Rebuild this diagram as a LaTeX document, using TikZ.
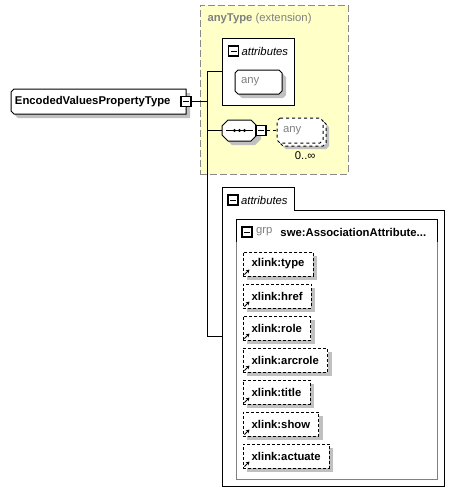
\documentclass[tikz,border=0pt]{standalone}
\usepackage{fontspec}
\setmainfont{Liberation Sans}
\usetikzlibrary{arrows.meta, positioning, calc, shadows}
\definecolor{extfill}{HTML}{FFFFC8}
\definecolor{extline}{HTML}{8A8A8A}
\definecolor{shade}{HTML}{C0C0C0}
\definecolor{dimtext}{HTML}{808080}
\definecolor{grpline}{HTML}{808080}

% box with cut corners (rectangle anchors, exact size)
\makeatletter
\pgfkeys{/pgf/cut west/.initial=3pt, /pgf/cut east/.initial=3pt}
\pgfdeclareshape{cutbox}{
  \inheritsavedanchors[from=rectangle]
  \inheritanchorborder[from=rectangle]
  \inheritanchor[from=rectangle]{center}
  \inheritanchor[from=rectangle]{north}
  \inheritanchor[from=rectangle]{south}
  \inheritanchor[from=rectangle]{east}
  \inheritanchor[from=rectangle]{west}
  \inheritanchor[from=rectangle]{north east}
  \inheritanchor[from=rectangle]{north west}
  \inheritanchor[from=rectangle]{south east}
  \inheritanchor[from=rectangle]{south west}
  \inheritanchor[from=rectangle]{mid}
  \inheritanchor[from=rectangle]{base}
  \backgroundpath{
    \southwest \edef\cbL{\the\pgf@x}\edef\cbB{\the\pgf@y}
    \northeast \edef\cbR{\the\pgf@x}\edef\cbT{\the\pgf@y}
    \pgfmathsetlengthmacro\cbOX{\pgfkeysvalueof{/pgf/outer xsep}}
    \pgfmathsetlengthmacro\cbOY{\pgfkeysvalueof{/pgf/outer ysep}}
    \pgfmathsetlengthmacro\cbL{\cbL+\cbOX}
    \pgfmathsetlengthmacro\cbR{\cbR-\cbOX}
    \pgfmathsetlengthmacro\cbB{\cbB+\cbOY}
    \pgfmathsetlengthmacro\cbT{\cbT-\cbOY}
    \pgfmathsetlengthmacro\cbW{\pgfkeysvalueof{/pgf/cut west}}
    \pgfmathsetlengthmacro\cbE{\pgfkeysvalueof{/pgf/cut east}}
    \pgfpathmoveto{\pgfpoint{\cbL+\cbW}{\cbT}}
    \pgfpathlineto{\pgfpoint{\cbR-\cbE}{\cbT}}
    \pgfpathlineto{\pgfpoint{\cbR}{\cbT-\cbE}}
    \pgfpathlineto{\pgfpoint{\cbR}{\cbB+\cbE}}
    \pgfpathlineto{\pgfpoint{\cbR-\cbE}{\cbB}}
    \pgfpathlineto{\pgfpoint{\cbL+\cbW}{\cbB}}
    \pgfpathlineto{\pgfpoint{\cbL}{\cbB+\cbW}}
    \pgfpathlineto{\pgfpoint{\cbL}{\cbT-\cbW}}
    \pgfpathclose
  }
}
\makeatother

\tikzset{
  basefont/.style={font=\fontsize{11.3}{13}\selectfont},
  shadowed/.style={drop shadow={shadow xshift=4pt, shadow yshift=-4pt, fill=shade, opacity=1}},
  elem/.style={draw, fill=white, line width=1pt, outer sep=0pt, shadowed, font=\fontsize{11.3}{13}\selectfont\bfseries},
  wild/.style={shape=cutbox, cut west=3pt, cut east=3pt,
    draw, fill=white, line width=1pt, outer sep=0pt, shadowed, text=dimtext, basefont,
    minimum height=24pt, text width=35pt, align=left, inner xsep=6pt},
  attrib/.style={elem, dash pattern=on 3pt off 2pt, minimum height=24pt, inner xsep=8.7pt},
  collapse/.style={draw, fill=white, line width=1.3pt, minimum size=10pt, inner sep=0pt,
    path picture={\draw[line width=1pt] ([xshift=2pt]path picture bounding box.west)
      -- ([xshift=-2pt]path picture bounding box.east);}},
  grouplabel/.style={font=\fontsize{11.3}{13}\selectfont\itshape, inner sep=0pt, anchor=west},
  link/.style={line width=1pt, -{Stealth[length=3.5pt, width=4pt]}}
}

\begin{document}
\begin{tikzpicture}[x=1pt, y=-1pt, line width=1pt]
\useasboundingbox (0,0) rectangle (469,504);

% ========== Base type (extension) ==========
\node[draw=extline, fill=extfill, dash pattern=on 7pt off 3pt, line width=1pt, outer sep=0pt,
      anchor=north west, minimum width=148pt, minimum height=169pt] (ext) at (200,5) {};
\node[basefont, text=dimtext, anchor=west, inner sep=0pt] (exttitle) at (207,19)
  {\textbf{anyType} (extension)};

% attributes of anyType
\node[draw, fill=white, outer sep=0pt, anchor=north west, minimum width=72pt, minimum height=67pt] (attrA) at (222,38) {};
\node[collapse] (attrAicon) at (233.5,51) {};
\node[grouplabel, right=2pt of attrAicon] (attrAlabel) {attributes};
\node[wild, anchor=north west] (anyA) at (235,70) {any};

% sequence with any element
\node[shape=cutbox, cut west=6pt, cut east=6pt, draw, fill=white, outer sep=0pt, shadowed,
      anchor=north west, minimum width=35pt, minimum height=21pt] (seq) at (222,120) {};
\draw[line width=1pt] ([xshift=4pt]seq.west) -- ([xshift=-4pt]seq.east);
\foreach \dx in {-5,0,5}
  \fill ([xshift=\dx pt]seq.center) circle (1.7pt);
\node[collapse] (seqicon) at ([xshift=4pt]seq.east) {};
\node[wild, dashed, anchor=north west, minimum height=25pt, text width=34pt, inner xsep=6pt,
      drop shadow={shadow xshift=6pt, shadow yshift=-6pt, fill=shade, opacity=1},
      general shadow={shadow xshift=3pt, shadow yshift=-3pt, fill=white, draw=black, dashed}] (anyB) at (277,118) {any};
\node[basefont, anchor=north east, inner sep=0pt] (anyBocc) at ([xshift=-7pt,yshift=-8pt]anyB.south east) {0..∞};
\draw[dashed] (seqicon.east) -- (anyB.west);

% ========== Main complex type ==========
\node[elem, shape=cutbox, cut west=3pt, cut east=0pt,
      anchor=north west, minimum height=25pt, text width=167pt, align=left, inner xsep=4pt] (evpt) at (11,89)
  {EncodedValuesPropertyType};
\node[collapse] (evpticon) at (evpt.east) {};

% ========== Own attributes ==========
\node[anchor=north west, minimum width=222pt, minimum height=299pt, inner sep=0pt, outer sep=0pt] (attrB) at (222,187) {};
\draw (attrB.north west) -- ++(72,0) -- ++(0,23) -| (attrB.south east) -- (attrB.south west) -- cycle;
\node[collapse] (attrBicon) at (233,200) {};
\node[grouplabel, right=2pt of attrBicon] (attrBlabel) {attributes};

% attribute group
\node[draw=grpline, anchor=north west, minimum width=201pt, minimum height=260pt, inner sep=0pt, outer sep=0pt] (grp) at (236,219) {};
\draw ([yshift=-23pt]grp.north west) -- (grp.north west) -- (grp.north east) -- ([yshift=-23pt]grp.north east);
\node[collapse] (grpicon) at (247,232) {};
\node[basefont, text=dimtext, anchor=west, inner sep=0pt, right=3pt of grpicon] (grptag) {grp};
\node[font=\fontsize{11.3}{13}\selectfont\bfseries, anchor=west, inner sep=0pt, right=7pt of grptag] (grpname)
  {swe:AssociationAttribute...};

\foreach \nm [count=\i from 0] in {type,href,role,arcrole,title,show,actuate} {
  \node[attrib, anchor=north west] (att\i) at (243,{252+32*\i}) {xlink:\nm};
  \draw[link] ([xshift=1.5pt,yshift=1.5pt]att\i.south west) -- ++(5,-5);
}

% ========== Connectors ==========
\coordinate (fork) at ($(evpticon.east -| attrA.west)+(-15,0)$);
\draw (evpticon.east) -- (fork);
\draw (fork |- attrA.west) -- (fork |- attrB.west);
\draw (fork |- attrA.west) -- (attrA.west);
\draw (fork |- seq.west) -- (seq.west);
\draw (fork |- attrB.west) -- (attrB.west);

\end{tikzpicture}
\end{document}
